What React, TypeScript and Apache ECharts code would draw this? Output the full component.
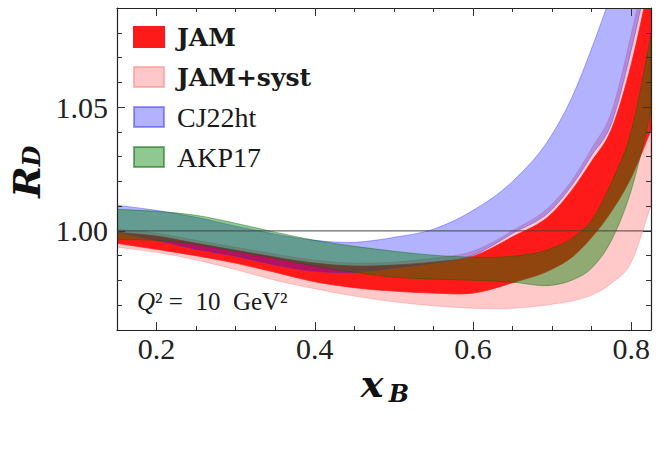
import React, { useEffect, useRef } from 'react';
import * as echarts from 'echarts';

// x grid shared by all bands
const xs = [0.15, 0.2, 0.25, 0.3, 0.35, 0.4, 0.45, 0.5, 0.55, 0.6, 0.65, 0.7, 0.725, 0.75, 0.775, 0.8, 0.825];

// JAM band
const jamLo = [0.995, 0.9926, 0.99, 0.987, 0.9833, 0.9795, 0.9771, 0.9757, 0.9749, 0.9749, 0.9791, 0.9846, 0.9894, 0.9974, 1.0079, 1.0216, 1.0406];
const jamHi = [0.9995, 0.9979, 0.995, 0.9922, 0.9894, 0.987, 0.9858, 0.9862, 0.9874, 0.9898, 0.9976, 1.0071, 1.0164, 1.0281, 1.041, 1.0672, 1.1031];

// JAM+syst band
const systLo = [0.9934, 0.9914, 0.9883, 0.9844, 0.9801, 0.9767, 0.9737, 0.9714, 0.9698, 0.9688, 0.9688, 0.9704, 0.9717, 0.9741, 0.9789, 0.9874, 1.0103];
const systHi = [1.0007, 0.9991, 0.9962, 0.9934, 0.9906, 0.9882, 0.987, 0.9874, 0.989, 0.9918, 1.0001, 1.0108, 1.0204, 1.0333, 1.0479, 1.0793, 1.115];

// CJ22ht band
const cjLo = [0.9995, 0.9962, 0.9926, 0.9898, 0.9862, 0.9837, 0.9833, 0.985, 0.987, 0.9902, 0.999, 1.0087, 1.0184, 1.0305, 1.0434, 1.0729, 1.109];
const cjHi = [1.0104, 1.0083, 1.0055, 1.0019, 0.9987, 0.9962, 0.9954, 0.9974, 1.0007, 1.0083, 1.02, 1.039, 1.0539, 1.0737, 1.096, 1.12, 1.15];

// AKP17 band
const akpLo = [0.9965, 0.9962, 0.9946, 0.9918, 0.989, 0.9858, 0.9833, 0.9813, 0.9805, 0.9801, 0.9793, 0.9781, 0.9801, 0.985, 0.9962, 1.0164, 1.0479];
const akpHi = [1.0087, 1.0079, 1.0063, 1.0031, 0.9995, 0.9962, 0.9938, 0.9918, 0.9902, 0.9894, 0.9898, 0.993, 0.997, 1.0043, 1.0196, 1.0402, 1.0789];

const legendNames = ['JAM', 'JAM+syst', 'CJ22ht', 'AKP17'];
const xMajor = [0.2, 0.4, 0.6, 0.8];
const xMinor = [0.25, 0.3, 0.35, 0.45, 0.5, 0.55, 0.65, 0.7, 0.75];
const yMajor = [1.0, 1.05];
const yMinor = [0.97, 0.98, 0.99, 1.01, 1.02, 1.03, 1.04, 1.06, 1.07, 1.08];
const refLine = [[0.15, 1.0], [0.825, 1.0]];

const SERIF = "'Liberation Serif', 'DejaVu Serif', serif";
const WIDE_SERIF = "'DejaVu Serif', 'Liberation Serif', serif";

// Cubic Hermite through pixel points (x-aware tangents) -> SVG path segments
function smoothSeg(pts: number[][]): string {
  const n = pts.length;
  const m: number[] = [];
  for (let i = 0; i < n; i++) {
    if (i === 0) {
      m.push((pts[1][1] - pts[0][1]) / (pts[1][0] - pts[0][0]));
    } else if (i === n - 1) {
      m.push((pts[n - 1][1] - pts[n - 2][1]) / (pts[n - 1][0] - pts[n - 2][0]));
    } else {
      const h0 = pts[i][0] - pts[i - 1][0];
      const h1 = pts[i + 1][0] - pts[i][0];
      const d0 = (pts[i][1] - pts[i - 1][1]) / h0;
      const d1 = (pts[i + 1][1] - pts[i][1]) / h1;
      m.push((d0 * h1 + d1 * h0) / (h0 + h1));
    }
  }
  let d = '';
  for (let i = 0; i < n - 1; i++) {
    const h = pts[i + 1][0] - pts[i][0];
    const c1x = pts[i][0] + h / 3;
    const c1y = pts[i][1] + (m[i] * h) / 3;
    const c2x = pts[i + 1][0] - h / 3;
    const c2y = pts[i + 1][1] - (m[i + 1] * h) / 3;
    d += ` C${c1x},${c1y} ${c2x},${c2y} ${pts[i + 1][0]},${pts[i + 1][1]}`;
  }
  return d;
}

function band(name: string, lo: number[], hi: number[], fill: string, stroke: string) {
  return {
    type: 'custom',
    name,
    clip: true,
    coordinateSystem: 'cartesian2d',
    itemStyle: { color: fill, borderColor: stroke, borderWidth: 1 },
    encode: { x: 0, y: [1, 2] },
    data: xs.map((x, i) => [x, lo[i], hi[i]]),
    renderItem: (params: any, api: any) => {
      if (params.dataIndex !== 0) return null;
      const up = xs.map((x, i) => api.coord([x, hi[i]]));
      const dn = xs.map((x, i) => api.coord([x, lo[i]])).reverse();
      const d =
        `M${up[0][0]},${up[0][1]}` +
        smoothSeg(up) +
        ` L${dn[0][0]},${dn[0][1]}` +
        smoothSeg(dn) +
        ' Z';
      return {
        type: 'path',
        shape: { pathData: d },
        style: { fill, stroke, lineWidth: 0.8 },
      };
    },
  };
}

const tickStyle = { color: '#333', width: 1 };

function xAx(position: string, values: number[], len: number, labels: boolean, line: boolean) {
  return {
    type: 'value',
    position,
    min: 0.15,
    max: 0.825,
    z: 10,
    axisLine: { show: line, onZero: false, lineStyle: { color: '#222', width: 1.2 } },
    axisTick: { show: true, inside: true, length: len, customValues: values, lineStyle: tickStyle },
    axisLabel: labels
      ? {
          show: true,
          customValues: values,
          margin: 3,
          fontFamily: SERIF,
          fontSize: 30,
          color: '#222',
          formatter: (v: number) => v.toFixed(1),
        }
      : { show: false },
    splitLine: { show: false },
  };
}

function yAx(position: string, values: number[], len: number, labels: boolean, line: boolean) {
  return {
    type: 'value',
    position,
    min: 0.96,
    max: 1.09,
    z: 10,
    axisLine: { show: line, onZero: false, lineStyle: { color: '#222', width: 1.2 } },
    axisTick: { show: true, inside: true, length: len, customValues: values, lineStyle: tickStyle },
    axisLabel: labels
      ? {
          show: true,
          customValues: values,
          margin: 9,
          fontFamily: SERIF,
          fontSize: 30,
          color: '#222',
          formatter: (v: number) => v.toFixed(2),
        }
      : { show: false },
    splitLine: { show: false },
  };
}

export default function App() {
  const ref = useRef<HTMLDivElement>(null);
  useEffect(() => {
    if (!ref.current) return;
    const chart = echarts.init(ref.current, undefined, { renderer: 'svg' });
    chart.setOption({
      animation: false,
      backgroundColor: '#fff',
      grid: { left: 117, right: 7, top: 8, bottom: 134, containLabel: false },
      xAxis: [
        xAx('bottom', xMajor, 8, true, true),
        xAx('bottom', xMinor, 4, false, false),
        xAx('top', xMajor, 8, false, true),
        xAx('top', xMinor, 4, false, false),
      ],
      yAxis: [
        yAx('left', yMajor, 8, true, true),
        yAx('left', yMinor, 5, false, false),
        yAx('right', yMajor, 8, false, true),
        yAx('right', yMinor, 5, false, false),
      ],
      legend: {
        data: legendNames,
        orient: 'vertical',
        left: 133,
        top: 23,
        padding: 0,
        itemWidth: 30,
        itemHeight: 20,
        itemGap: 12,
        icon: 'rect',
        formatter: (n: string) => (n.indexOf('JAM') === 0 ? `{b|${n}}` : `{n|${n}}`),
        textStyle: {
          padding: [0, 0, 0, 8],
          rich: {
            b: { fontFamily: WIDE_SERIF, fontWeight: 'bold', fontSize: 25, lineHeight: 28, height: 28, color: '#1a1a1a' },
            n: { fontFamily: SERIF, fontWeight: 'normal', fontSize: 28, lineHeight: 28, height: 28, color: '#1a1a1a' },
          },
        },
      },
      graphic: [
        {
          type: 'text',
          x: 137,
          y: 301,
          style: {
            text: '{q|Q}{r|² =  10  GeV²}',
            verticalAlign: 'middle',
            align: 'left',
            rich: {
              q: { fontFamily: SERIF, fontStyle: 'italic', fontSize: 25, fill: '#1a1a1a' },
              r: { fontFamily: SERIF, fontSize: 25, fill: '#1a1a1a' },
            },
          },
        },
        {
          type: 'text',
          x: 372,
          y: 383,
          style: {
            text: 'x',
            align: 'center',
            verticalAlign: 'middle',
            fontFamily: WIDE_SERIF,
            fontStyle: 'italic',
            fontWeight: 'bold',
            fontSize: 38,
            fill: '#111',
          },
        },
        {
          type: 'text',
          x: 399,
          y: 393,
          style: {
            text: 'B',
            align: 'center',
            verticalAlign: 'middle',
            fontFamily: WIDE_SERIF,
            fontStyle: 'italic',
            fontWeight: 'bold',
            fontSize: 24,
            fill: '#111',
          },
        },
        {
          type: 'text',
          x: 26,
          y: 182,
          rotation: Math.PI / 2,
          style: {
            text: 'R',
            align: 'center',
            verticalAlign: 'middle',
            fontFamily: WIDE_SERIF,
            fontStyle: 'italic',
            fontWeight: 'bold',
            fontSize: 38,
            fill: '#111',
          },
        },
        {
          type: 'text',
          x: 31,
          y: 156,
          rotation: Math.PI / 2,
          style: {
            text: 'D',
            align: 'center',
            verticalAlign: 'middle',
            fontFamily: WIDE_SERIF,
            fontStyle: 'italic',
            fontWeight: 'bold',
            fontSize: 24,
            fill: '#111',
          },
        },
      ],
      series: [
        band('JAM+syst', systLo, systHi, '#ffc9c9', 'rgba(255,140,140,0.6)'),
        band('JAM', jamLo, jamHi, '#ff1a1a', '#ff1a1a'),
        band('CJ22ht', cjLo, cjHi, 'rgba(0,0,255,0.3)', 'rgba(40,40,255,0.45)'),
        band('AKP17', akpLo, akpHi, 'rgba(0,128,0,0.43)', 'rgba(0,100,0,0.5)'),
        {
          type: 'line',
          name: 'ref',
          data: refLine,
          symbol: 'none',
          silent: true,
          z: 5,
          lineStyle: { color: '#444', width: 1.2, opacity: 0.8 },
        },
      ],
    });
    return () => chart.dispose();
  }, []);
  return (
    <div
      ref={ref}
      style={{ position: 'fixed', left: 0, top: 0, width: 658, height: 464, background: '#fff' }}
    />
  );
}
